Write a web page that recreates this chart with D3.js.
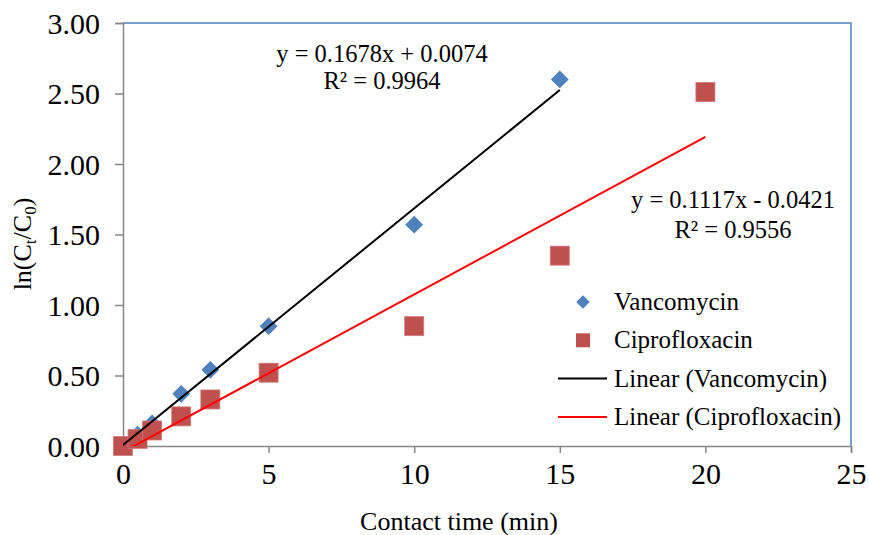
<!DOCTYPE html>
<html>
<head>
<meta charset="utf-8">
<script src="https://cdn.jsdelivr.net/npm/d3@7"></script>
<style>
  body { margin: 0; background: #fff; }
  text { font-family: "Liberation Serif", "Times New Roman", serif; fill: #000; }
</style>
</head>
<body>
<div id="chart"></div>
<script>
// contact time (min) and ln(Ct/C0) values
const vancoTime = [0, 0.5, 1, 2, 3, 5, 10, 15];
const vancoValue = [0, 0.08, 0.16, 0.37, 0.54, 0.85, 1.57, 2.60];
const ciproTime = [0, 0.5, 1, 2, 3, 5, 10, 15, 20];
const ciproValue = [0, 0.05, 0.11, 0.21, 0.33, 0.52, 0.85, 1.35, 2.51];

// Excel linear trendlines
const vancoFit = { slope: 0.1678, intercept: 0.0074, from: 0, to: 15 };
const ciproFit = { slope: 0.1117, intercept: -0.0421, from: 0, to: 20 };

const xTicks = [0, 5, 10, 15, 20, 25];
const yTicks = [0, 0.5, 1, 1.5, 2, 2.5, 3];

const width = 869, height = 535;
const margin = { top: 23, right: 18, bottom: 89, left: 123 };

const x = d3.scaleLinear().domain([0, 25]).range([margin.left, width - margin.right]);
const y = d3.scaleLinear().domain([0, 3]).range([height - margin.bottom, margin.top]);

const svg = d3.select('#chart').append('svg')
  .attr('width', width)
  .attr('height', height);

svg.append('clipPath').attr('id', 'plot')
  .append('rect')
  .attr('x', x(0)).attr('y', y(3))
  .attr('width', x(25) - x(0)).attr('height', y(0) - y(3));

// plot area border (top / right in blue)
svg.append('path')
  .attr('d', `M${x(0)},${y(3)}H${x(25)}V${y(0)}`)
  .attr('fill', 'none')
  .attr('stroke', '#4f81bd')
  .attr('stroke-width', 1.5);

const axisColor = '#868686';

const xAxis = svg.append('g')
  .attr('transform', `translate(0,${y(0)})`)
  .call(d3.axisBottom(x).tickValues(xTicks).tickSize(7).tickPadding(10).tickFormat(d3.format('d')));
const yAxis = svg.append('g')
  .attr('transform', `translate(${x(0)},0)`)
  .call(d3.axisLeft(y).tickValues(yTicks).tickSize(8).tickPadding(15).tickFormat(d3.format('.2f')));

[xAxis, yAxis].forEach(g => {
  g.select('.domain').attr('stroke', axisColor).attr('stroke-width', 1.5);
  g.selectAll('.tick line').attr('stroke', axisColor).attr('stroke-width', 1.5);
  g.selectAll('.tick text')
    .attr('font-family', '"Liberation Serif", serif')
    .attr('font-size', 30)
    .attr('fill', '#000');
});
xAxis.selectAll('.tick text').attr('dy', '0.71em');
yAxis.selectAll('.tick text').attr('dy', '0.34em');

// markers
const diamond = d3.symbol().type(d3.symbolSquare).size(160);
svg.append('g').selectAll('path')
  .data(vancoTime.map((t, i) => [t, vancoValue[i]]))
  .join('path')
  .attr('d', diamond)
  .attr('transform', d => `translate(${x(d[0])},${y(d[1])}) rotate(45)`)
  .attr('fill', '#4f81bd');

svg.append('g').selectAll('rect')
  .data(ciproTime.map((t, i) => [t, ciproValue[i]]))
  .join('rect')
  .attr('x', d => x(d[0]) - 9.5)
  .attr('y', d => y(d[1]) - 9.5)
  .attr('width', 19)
  .attr('height', 19)
  .attr('fill', '#c0504d')
  .attr('stroke', '#d07a78')
  .attr('stroke-width', 0.8);

// trendlines
const fitLine = f => [[f.from, f.slope * f.from + f.intercept], [f.to, f.slope * f.to + f.intercept]];
const line = d3.line().x(d => x(d[0])).y(d => y(d[1]));

svg.append('path')
  .datum(fitLine(vancoFit))
  .attr('d', line)
  .attr('clip-path', 'url(#plot)')
  .attr('fill', 'none')
  .attr('stroke', '#000')
  .attr('stroke-width', 2);

svg.append('path')
  .datum(fitLine(ciproFit))
  .attr('d', line)
  .attr('clip-path', 'url(#plot)')
  .attr('fill', 'none')
  .attr('stroke', '#ff0000')
  .attr('stroke-width', 2);

// trendline equations
const eq = [
  { lines: ['y = 0.1678x + 0.0074', 'R² = 0.9964'], cx: 382, y0: 62, gap: 27 },
  { lines: ['y = 0.1117x - 0.0421', 'R² = 0.9556'], cx: 733, y0: 208, gap: 30 }
];
eq.forEach(e => {
  e.lines.forEach((s, i) => {
    svg.append('text')
      .attr('x', e.cx)
      .attr('y', e.y0 + i * e.gap)
      .attr('text-anchor', 'middle')
      .attr('font-size', 24.5)
      .text(s);
  });
});

// legend
const legendItems = [
  { label: 'Vancomycin', kind: 'diamond' },
  { label: 'Ciprofloxacin', kind: 'square' },
  { label: 'Linear (Vancomycin)', kind: 'line', color: '#000' },
  { label: 'Linear (Ciprofloxacin)', kind: 'line', color: '#ff0000' }
];
const legend = svg.append('g').attr('transform', 'translate(583,302)');
legendItems.forEach((d, i) => {
  const g = legend.append('g').attr('transform', `translate(0,${i * 38.3})`);
  if (d.kind === 'diamond') {
    g.append('path').attr('d', d3.symbol().type(d3.symbolSquare).size(90)).attr('transform', 'rotate(45)').attr('fill', '#4f81bd');
  } else if (d.kind === 'square') {
    g.append('rect').attr('x', -7).attr('y', -7).attr('width', 14).attr('height', 14).attr('fill', '#c0504d');
  } else {
    g.append('line').attr('x1', -25).attr('x2', 24).attr('stroke', d.color).attr('stroke-width', 2);
  }
  g.append('text').attr('x', 31).attr('y', 8).attr('font-size', 25).text(d.label);
});

// axis titles
svg.append('text')
  .attr('x', 459)
  .attr('y', 530)
  .attr('text-anchor', 'middle')
  .attr('font-size', 26)
  .text('Contact time (min)');

const yTitle = svg.append('text')
  .attr('transform', 'translate(31,244) rotate(-90)')
  .attr('text-anchor', 'middle')
  .attr('font-size', 26);
yTitle.append('tspan').text('ln(C');
yTitle.append('tspan').attr('font-size', 17).attr('dy', 5).text('t');
yTitle.append('tspan').attr('dy', -5).text('/C');
yTitle.append('tspan').attr('font-size', 17).attr('dy', 5).text('0');
yTitle.append('tspan').attr('dy', -5).text(')');
</script>
</body>
</html>
